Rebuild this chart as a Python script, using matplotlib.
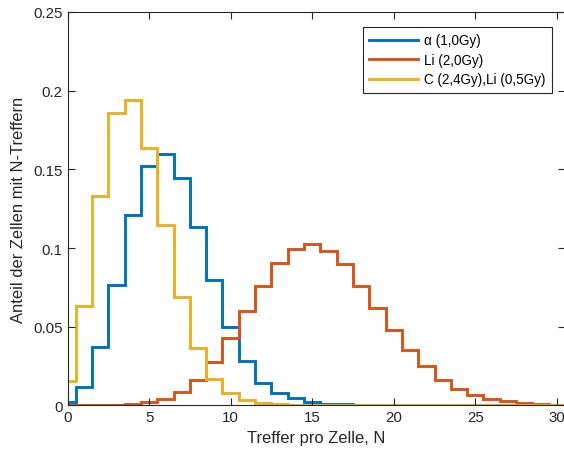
import numpy as np
import matplotlib
matplotlib.use('Agg')
import matplotlib.pyplot as plt

plt.rcParams['font.family'] = ['Liberation Sans', 'DejaVu Sans']

# hits per cell, N = 0 ... 30
n_hits = np.arange(0, 31)

# fraction of cells with N hits
alpha_1gy = [0.0020, 0.0115, 0.0369, 0.0765, 0.1210, 0.1523, 0.1598, 0.1443,
             0.1136, 0.0795, 0.0500, 0.0284, 0.0142, 0.0079, 0.0045, 0.0024,
             0.0012, 0.0006, 0.0003, 0.0001, 0.0, 0.0, 0.0, 0.0, 0.0, 0.0,
             0.0, 0.0, 0.0, 0.0, 0.0]
li_2gy = [0.0001, 0.0001, 0.0002, 0.0004, 0.0009, 0.0020, 0.0040, 0.0087,
          0.0160, 0.0278, 0.0428, 0.0602, 0.0761, 0.0905, 0.0994, 0.1026,
          0.0983, 0.0899, 0.0761, 0.0619, 0.0479, 0.0352, 0.0248, 0.0163,
          0.0104, 0.0068, 0.0041, 0.0026, 0.0017, 0.0009, 0.0005]
c_li = [0.0153, 0.0634, 0.1329, 0.1858, 0.1943, 0.1636, 0.1148, 0.0687,
        0.0367, 0.0170, 0.0077, 0.0034, 0.0015, 0.0007, 0.0003, 0.0001,
        0.0, 0.0, 0.0, 0.0, 0.0, 0.0, 0.0, 0.0, 0.0, 0.0, 0.0, 0.0, 0.0,
        0.0, 0.0]

labels = [u'\u03b1 (1,0Gy)', 'Li (2,0Gy)', 'C (2,4Gy),Li (0,5Gy)']
colors = ['#0072BD', '#D95319', '#EDB120']

# initialize figure (right spine sits just at the right edge, as in the source)
fig = plt.figure(figsize=(5.64, 4.56), dpi=100)
ax = fig.add_axes([67.5/564, 49.6/456, 497.5/564, 393.4/456])

# draw stairs, each value held over N-0.5 ... N+0.5
edges = np.append(n_hits - 0.5, n_hits[-1] + 0.5)
for vals, lab, col in zip([alpha_1gy, li_2gy, c_li], labels, colors):
    ax.stairs(vals, edges, baseline=None, color=col, lw=2.1, label=lab)

# axes limits and ticks
ax.set_xlim(0, 30.5)
ax.set_ylim(0, 0.25)
ax.set_xticks(range(0, 31, 5))
ax.set_yticks([0, 0.05, 0.1, 0.15, 0.2, 0.25])
ax.set_yticklabels(['0', '0.05', '0.1', '0.15', '0.2', '0.25'])
ax.tick_params(direction='in', top=True, right=True, length=5, width=0.8,
               color='0.15', labelcolor='0.15', labelsize=10.8)
for sp in ax.spines.values():
    sp.set_color('0.15')
    sp.set_linewidth(0.8)

ax.set_xlabel('Treffer pro Zelle, N', fontsize=11.9, color='0.15')
ax.set_ylabel('Anteil der Zellen mit N-Treffern', fontsize=11.9, color='0.15',
              labelpad=5)

# legend
leg = ax.legend(loc='upper right', bbox_to_anchor=(552/564, 1 - 27.7/456),
                bbox_transform=fig.transFigure, borderaxespad=0,
                fancybox=False, fontsize=9.75, handlelength=3.6,
                handletextpad=0.42, labelspacing=0.4, borderpad=0.5)
leg.get_frame().set_edgecolor('0.15')
leg.get_frame().set_linewidth(0.8)
leg.get_frame().set_alpha(1)

fig.savefig('out.png', dpi=100)
